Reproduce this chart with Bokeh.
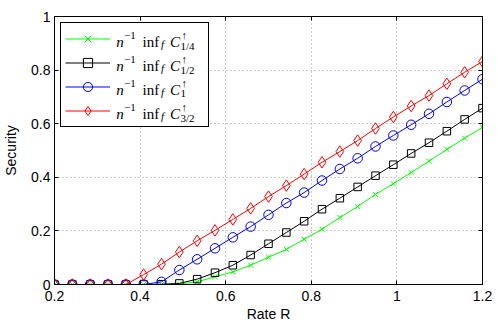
from bokeh.plotting import figure
from bokeh.models import (LinearAxis, FixedTicker, CustomJSTickFormatter, Legend,
                          LegendItem, Range1d)
from bokeh.core.properties import value
from bokeh.embed import file_html
from bokeh.resources import INLINE

# ---- data ----
rate = [0.2, 0.2417, 0.2833, 0.325, 0.3667, 0.4083, 0.45, 0.4917, 0.5333,
        0.575, 0.6167, 0.6583, 0.7, 0.7417, 0.7833, 0.825, 0.8667, 0.9083,
        0.95, 0.9917, 1.0333, 1.075, 1.1167, 1.1583, 1.2]
sec_quarter = [0, 0, 0, 0, 0, 0, 0, 0.002, 0.01, 0.029, 0.047, 0.072, 0.102,
               0.131, 0.169, 0.206, 0.25, 0.291, 0.336, 0.376, 0.418, 0.46,
               0.504, 0.546, 0.587]
sec_half = [0, 0, 0, 0, 0, 0, 0.001, 0.004, 0.02, 0.044, 0.072, 0.11, 0.152,
            0.194, 0.236, 0.281, 0.322, 0.364, 0.406, 0.447, 0.489, 0.529,
            0.572, 0.616, 0.658]
sec_one = [0, 0, 0, 0, 0, 0, 0.01, 0.054, 0.094, 0.135, 0.176, 0.216, 0.26,
           0.304, 0.343, 0.388, 0.431, 0.471, 0.515, 0.556, 0.596, 0.637,
           0.681, 0.724, 0.766]
sec_three_half = [0, 0, 0, 0, 0, 0.037, 0.076, 0.121, 0.163, 0.202, 0.243,
                  0.284, 0.328, 0.369, 0.412, 0.456, 0.496, 0.537, 0.582,
                  0.625, 0.666, 0.705, 0.749, 0.792, 0.832]
x_range = (0.2, 1.2)
y_range = (0, 1)
x_ticks = [0.2, 0.4, 0.6, 0.8, 1.0, 1.2]
y_ticks = [0, 0.2, 0.4, 0.6, 0.8, 1.0]
subscripts = ["1/4", "1/2", "1", "3/2"]
x_label = "Rate R"
y_label = "Security"

# ---- styles ----
series = [
    (sec_quarter, "#00ff00", "x", 7),
    (sec_half, "black", "square", 7.5),
    (sec_one, "#0000ff", "circle", 9.5),
    (sec_three_half, "#ff0000", "diamond", 11.5),
]

FONT = "Liberation Sans"
SERIF = "Liberation Serif"
W, H = 498, 324
B_LEFT, B_RIGHT, B_TOP, B_BOTTOM = 53, 16, 16, 40

# legend geometry (pixels)
L_MARGIN, L_PAD, L_SPACING = 6, 4, 1
L_GLYPH_W, L_ROW_H, L_LABEL_W, L_STANDOFF = 45, 23, 88, 6
legend_w = 2 * L_PAD + L_GLYPH_W + L_STANDOFF + L_LABEL_W
legend_h = 2 * L_PAD + 4 * L_ROW_H + 3 * L_SPACING

p = figure(width=W, height=H, x_range=Range1d(*x_range), y_range=Range1d(*y_range),
           output_backend="svg", toolbar_location=None,
           min_border_left=B_LEFT, min_border_right=B_RIGHT,
           min_border_top=B_TOP, min_border_bottom=B_BOTTOM)
p.outline_line_color = "black"
p.outline_line_alpha = 1.0

fmt = CustomJSTickFormatter(code="return String(Math.round(tick*10)/10);")

for ax, ticks in ((p.xaxis[0], x_ticks), (p.yaxis[0], y_ticks)):
    ax.ticker = FixedTicker(ticks=ticks)
    ax.formatter = fmt
    ax.minor_tick_line_color = None
    ax.major_tick_in = 4
    ax.major_tick_out = 0
    ax.axis_line_color = "black"
    ax.major_tick_line_color = "black"
    ax.major_label_text_font = FONT
    ax.major_label_text_font_size = "14px"
    ax.major_label_text_color = "black"
    ax.axis_label_text_font = FONT
    ax.axis_label_text_font_size = "14px"
    ax.axis_label_text_font_style = "normal"
    ax.axis_label_text_color = "black"

p.xaxis[0].axis_label = x_label
p.yaxis[0].axis_label = y_label
p.xaxis[0].major_label_standoff = 6
p.xaxis[0].axis_label_standoff = 2
p.yaxis[0].major_label_standoff = 4
p.yaxis[0].axis_label_standoff = 9

# mirrored tick axes (top / right), no labels
for place, ticks in (("above", x_ticks), ("right", y_ticks)):
    ax = LinearAxis(ticker=FixedTicker(ticks=ticks),
                    major_label_text_font_size="0px",
                    major_label_text_color=None,
                    major_label_standoff=0,
                    minor_tick_line_color=None,
                    major_tick_in=4, major_tick_out=0,
                    axis_line_color="black", major_tick_line_color="black")
    p.add_layout(ax, place)

for g in (p.xgrid[0], p.ygrid[0]):
    g.grid_line_color = "#999999"
    g.grid_line_dash = "1 3"
    g.grid_line_width = 1

# white backing for the legend (centred on the frame's top-left corner,
# clipped by the frame), drawn above the grid and below everything else
p.rect(x=[x_range[0]], y=[y_range[1]],
       width=2 * (L_MARGIN + legend_w), height=2 * (L_MARGIN + legend_h),
       width_units="screen", height_units="screen",
       fill_color="white", line_color=None)

items = []
for ys, color, marker, size in series:
    l = p.line(rate, ys, line_color=color, line_width=1)
    s = p.scatter(rate, ys, marker=marker, size=size, line_color=color,
                  fill_color=None, line_width=1)
    items.append(LegendItem(label=value(" "), renderers=[l, s]))

legend = Legend(items=items, location="top_left", margin=L_MARGIN,
                padding=L_PAD, spacing=L_SPACING, glyph_width=L_GLYPH_W,
                glyph_height=L_ROW_H, label_height=L_ROW_H,
                label_width=L_LABEL_W, label_standoff=L_STANDOFF,
                label_text_font_size="10px",
                border_line_color="black", border_line_width=1,
                border_line_alpha=1, background_fill_color=None)
p.add_layout(legend)

# math legend text: anchored at the frame's top-left corner, offset in pixels
for i, sub in enumerate(subscripts):
    cy = L_MARGIN + L_PAD + L_ROW_H / 2 + (L_ROW_H + L_SPACING) * i
    def add(txt, dx, dy, size, style):
        p.text(x=[x_range[0]], y=[y_range[1]], text=[txt],
               x_offset=L_MARGIN + dx, y_offset=cy + dy,
               text_font=value(SERIF), text_font_size=value(size),
               text_font_style=value(style), text_color="black",
               text_align="left", text_baseline="alphabetic")
    add("n", 55.7, 3.5, "15px", "italic")
    add("\u22121", 63.5, -2.7, "11px", "normal")
    add("inf", 82, 3.5, "15px", "normal")
    add("f", 100.5, 5.8, "11px", "italic")
    add("C", 109.5, 3.5, "15px", "italic")
    add("\u2191", 121, -3.5, "11px", "normal")
    add(sub, 120, 7.8, "11px", "normal")

open("out.html", "w").write(file_html(p, INLINE))
